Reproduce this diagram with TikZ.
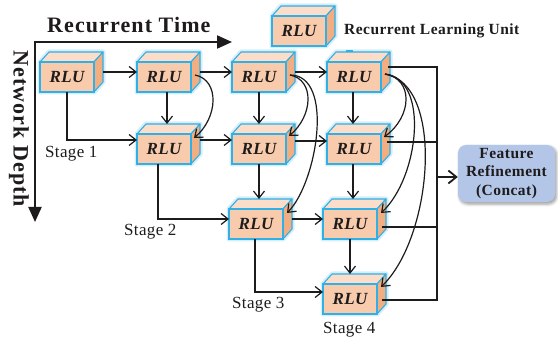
\documentclass[tikz,border=0pt]{standalone}
\usepackage{fontspec}
\setmainfont{Liberation Serif}
\newfontfamily\axisfont[LetterSpace=5]{Liberation Serif}
\newfontfamily\unitfont[LetterSpace=2]{Liberation Serif}
\newfontfamily\legendfont[LetterSpace=3]{Liberation Serif}
\newfontfamily\stagefont[LetterSpace=2]{Liberation Serif}
\usetikzlibrary{arrows.meta,calc,shadows.blur}

\definecolor{rlufront}{HTML}{F8CBAD}
\definecolor{rlutop}{HTML}{FBDDC9}
\definecolor{rluside}{HTML}{F2AE80}
\definecolor{rluedge}{HTML}{2FB0E6}
\definecolor{rluglow}{HTML}{D6EEF9}
\definecolor{ink}{HTML}{1E1B1C}
\definecolor{featfill}{HTML}{B4C6E7}

\tikzset{
  rlu/.style={draw=rluedge, fill=rlufront, line width=1.1pt, minimum width=54pt,
    minimum height=30pt, inner sep=0pt, outer sep=0pt, text=ink,
    font=\unitfont\fontsize{17}{17}\selectfont\bfseries\itshape},
  rluface/.style={draw=rluedge, line width=1.1pt, line join=round},
  rluhalo/.style={draw=rluglow, fill=rluglow, line width=5pt, line join=round},
  link/.style={draw=ink, line width=1.2pt, -{Straight Barb[length=7pt,width=11pt]}},
  wire/.style={draw=ink, line width=1.3pt},
  featarrow/.style={draw=ink, line width=1.8pt, -{Straight Barb[length=8pt,width=13pt]}},
  axis/.style={draw=ink, line width=2pt,
    {Triangle[length=15pt,width=13pt]}-{Triangle[length=15pt,width=13pt]}},
  axislabel/.style={inner sep=0pt, text=ink, font=\axisfont\fontsize{22}{26}\selectfont\bfseries},
  legendlabel/.style={inner sep=0pt, text=ink, font=\legendfont\fontsize{15.5}{18}\selectfont\bfseries},
  stagelabel/.style={inner sep=0pt, anchor=base west, text=ink, font=\stagefont\fontsize{17}{20}\selectfont},
  feature/.style={fill=featfill, rounded corners=8pt, minimum width=97pt, minimum height=57pt,
    inner sep=0pt, align=center, text=ink,
    font=\legendfont\fontsize{15.5}{18.5}\selectfont\bfseries,
    blur shadow={shadow xshift=1.5pt, shadow yshift=-2pt, shadow blur radius=3pt, shadow opacity=40}},
}

% A learning unit drawn as a small box: halo, top face, side face, then the front node.
\newcommand\rlubox[3]{%
  \coordinate (#1-c) at (#2,#3);
  \path[rluhalo] ($(#1-c)+(-27,15)$) -- ($(#1-c)+(-27,-15)$) -- ($(#1-c)+(-18,-25)$)
     -- ($(#1-c)+(36,-25)$) -- ($(#1-c)+(36,5)$) -- ($(#1-c)+(27,15)$) -- cycle;
  \path[rluface, fill=rlutop] ($(#1-c)+(-27,-15)$) -- ++(9,-10) -- ++(54,0) -- ++(-9,10) -- cycle;
  \path[rluface, fill=rluside] ($(#1-c)+(27,-15)$) -- ++(9,-10) -- ++(0,30) -- ++(-9,10) -- cycle;
  \node[rlu] (#1) at (#1-c) {RLU};
}

\begin{document}
\begin{tikzpicture}[x=1pt, y=-1pt]
\useasboundingbox (0,0) rectangle (558,342);

% axes
\coordinate (origin) at (35,42);
\coordinate (timeend) at (232,42);
\coordinate (depthend) at (35,222);
\draw[axis] (depthend) -- (origin) -- (timeend);
\node[axislabel, anchor=base west] (tlabel) at (47,33) {Recurrent Time};
\node[axislabel, anchor=base west, rotate=-90] (dlabel) at (13.5,50) {Network Depth};

% legend
\rlubox{legend}{299}{31}
\node[legendlabel, anchor=base west] (leglabel) at (344,35) {Recurrent Learning Unit};

% units
\rlubox{r1c1}{67}{77}
\rlubox{r1c2}{164}{77}
\rlubox{r1c3}{259}{77}
\rlubox{r1c4}{354}{77}
\rlubox{r2c2}{164}{149}
\rlubox{r2c3}{259}{149}
\rlubox{r2c4}{354}{149}
\rlubox{r3c3}{256}{224}
\rlubox{r3c4}{350}{224}
\rlubox{r4c4}{350}{299}
\draw[rluedge, line width=2pt] ($(r1c4.north)+(-8,-11)$) -- ++(7,0);

% feature refinement
\node[feature] (feat) at (506.5,173.5) {Feature\\Refinement\\(Concat)};

% recurrent steps along each row
\draw[link] ($(r1c1.east)+(9,-5)$) -- ($(r1c2.west)+(0,-5)$);
\draw[link] ($(r1c2.east)+(9,-5)$) -- ($(r1c3.west)+(0,-5)$);
\draw[link] ($(r1c3.east)+(9,-5)$) -- ($(r1c4.west)+(0,-5)$);
\draw[link] ($(r2c2.east)+(9,-9)$) -- ($(r2c3.west)+(0,-9)$);
\draw[link] ($(r2c3.east)+(9,-8)$) -- ($(r2c4.west)+(0,-8)$);
\draw[link] ($(r3c3.east)+(9,-5)$) -- ($(r3c4.west)+(0,-5)$);

% stage entries
\draw[link] (r1c1.south) |- ($(r2c2.west)+(0,-9)$);
\draw[link] ($(r2c2.south)+(-6,0)$) |- ($(r3c3.west)+(0,-5)$);
\draw[link] ($(r3c3.south)+(-1,0)$) |- ($(r4c4.west)+(0,-7)$);

% depth steps
\draw[link] ($(r1c2.south)+(3,0)$) -- ($(r1c2.south |- r2c2.north)+(3,-10)$);
\draw[link] (r1c3.south) -- ($(r1c3.south |- r2c3.north)+(0,-10)$);
\draw[link] ($(r1c4.south)+(-1,0)$) -- ($(r1c4.south |- r2c4.north)+(-1,-10)$);
\draw[link] (r2c3.south) -- ($(r2c3.south |- r3c3.north)+(0,-10)$);
\draw[link] ($(r2c4.south)+(-1,0)$) -- ($(r2c4.south |- r3c4.north)+(-1,-10)$);
\draw[link] (r3c4.south) -- ($(r3c4.south |- r4c4.north)+(0,-10)$);

% dense skips from the first row
\draw[link] ($(r1c2.east)+(4,-2)$) .. controls +(25,5) and +(24,-20) .. ($(r2c2.east)+(3,-11)$);
\draw[link] ($(r1c3.east)+(4,-2)$) .. controls +(25,5) and +(24,-20) .. ($(r2c3.east)+(3,-13)$);
\draw[link] ($(r1c3.east)+(4,-2)$) .. controls +(45,0) and +(30,-30) .. ($(r3c3.east)+(4,-11)$);
\draw[link] ($(r1c4.east)+(4,-3)$) .. controls +(29,5) and +(28,-20) .. ($(r2c4.east)+(3,-12)$);
\draw[link] ($(r1c4.east)+(4,-3)$) .. controls +(45,5) and +(38,-35) .. ($(r3c4.east)+(4,-11)$);
\draw[link] ($(r1c4.east)+(4,-3)$) .. controls +(60,10) and +(52,-50) .. ($(r4c4.east)+(4,-12)$);

% outputs gathered into the refinement block
\coordinate (bus) at (437,177);
\coordinate (o1) at ($(r1c4.east)+(7,-10)$);
\coordinate (o2) at ($(r2c4.east)+(6,-7)$);
\coordinate (o3) at ($(r3c4.east)+(5,3)$);
\coordinate (o4) at ($(r4c4.east)+(5,1)$);
\draw[wire] (o1) -| (bus);
\draw[wire] (o4) -| (bus);
\draw[wire] (o2) -- (o2 -| bus);
\draw[wire] (o3) -- (o3 -| bus);
\draw[featarrow] (bus) -- (bus -| feat.west);

% stage labels
\node[stagelabel] (s1) at (45,158) {Stage 1};
\node[stagelabel] (s2) at (124,236) {Stage 2};
\node[stagelabel] (s3) at (232,309) {Stage 3};
\node[stagelabel] (s4) at (323,334) {Stage 4};
\end{tikzpicture}
\end{document}
